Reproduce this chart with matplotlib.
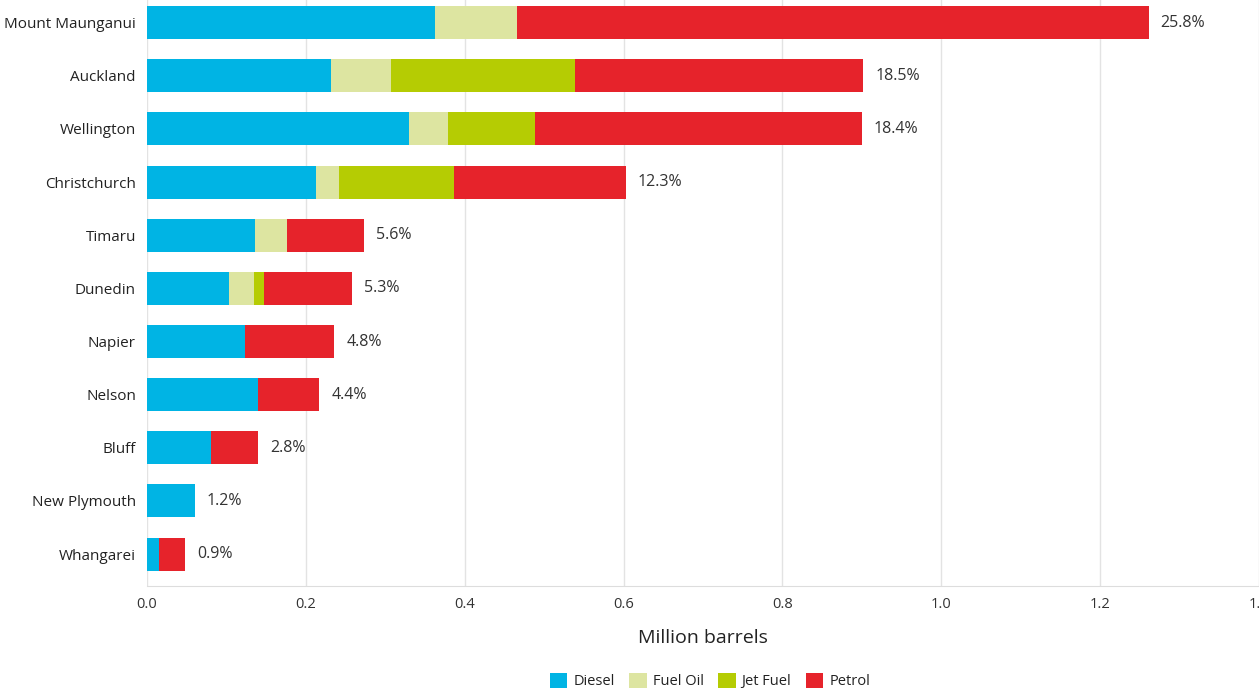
import matplotlib
matplotlib.use("Agg")
import matplotlib.pyplot as plt
import numpy as np
from matplotlib.patches import Patch

plt.rcParams['font.family'] = ['Open Sans', 'DejaVu Sans']

ports = ["Mount Maunganui", "Auckland", "Wellington", "Christchurch", "Timaru",
         "Dunedin", "Napier", "Nelson", "Bluff", "New Plymouth", "Whangarei"]
diesel = [0.363, 0.232, 0.330, 0.213, 0.136, 0.103, 0.123, 0.140, 0.081, 0.060, 0.015]
fuel_oil = [0.103, 0.075, 0.049, 0.029, 0.040, 0.032, 0.0, 0.0, 0.0, 0.0, 0.0]
jet_fuel = [0.0, 0.232, 0.110, 0.145, 0.0, 0.012, 0.0, 0.0, 0.0, 0.0, 0.0]
petrol = [0.795, 0.363, 0.411, 0.216, 0.097, 0.111, 0.113, 0.077, 0.059, 0.0, 0.033]
shares = ["25.8%", "18.5%", "18.4%", "12.3%", "5.6%", "5.3%", "4.8%", "4.4%", "2.8%", "1.2%", "0.9%"]
series_names = ["Diesel", "Fuel Oil", "Jet Fuel", "Petrol"]
colors = ["#00B4E4", "#DDE5A1", "#B5CC03", "#E6232B"]
xticks = [0.0, 0.2, 0.4, 0.6, 0.8, 1.0, 1.2, 1.4]

fig = plt.figure(figsize=(12.59, 6.91), dpi=100)
ax = fig.add_axes([147/1259, 1-586/691, 1-147/1259, 586/691])

y = np.arange(len(ports))
left = np.zeros(len(ports))
for vals, c in zip([diesel, fuel_oil, jet_fuel, petrol], colors):
    v = np.array(vals)
    ax.barh(y, v, left=left, height=0.62, color=c, edgecolor="none", zorder=3)
    left = left + v

for yi, tot, s in zip(y, left, shares):
    ax.text(tot + 0.015, yi, s, va="center", ha="left", fontsize=11.5, color="#333333")

ax.set_xlim(0, 1.4)
ax.set_ylim(10.60, -0.425)
ax.set_yticks(y)
ax.set_yticklabels(ports, fontsize=11, color="#222222")
ax.set_xticks(xticks)
ax.set_xticklabels(["0.0", "0.2", "0.4", "0.6", "0.8", "1.0", "1.2", "1.4"], fontsize=10.5, color="#333333")
ax.tick_params(axis="both", length=0, pad=8)
ax.tick_params(axis="y", pad=8)
ax.grid(axis="x", color="#E3E3E3", linewidth=1, zorder=0)
for sp in ["top", "right", "left"]:
    ax.spines[sp].set_visible(False)
ax.spines["bottom"].set_color("#DDDDDD")
ax.set_xlabel("Million barrels", fontsize=14, color="#222222", labelpad=12)

handles = [Patch(facecolor=c, edgecolor="none", label=n) for n, c in zip(series_names, colors)]
fig.legend(handles=handles, loc="center", bbox_to_anchor=(710/1259, 1-681/691), ncol=4,
           frameon=False, fontsize=10.5, handlelength=1.2, handleheight=1.2,
           handletextpad=0.4, columnspacing=1.0, labelcolor="#222222")

fig.savefig("out.png", dpi=100)
